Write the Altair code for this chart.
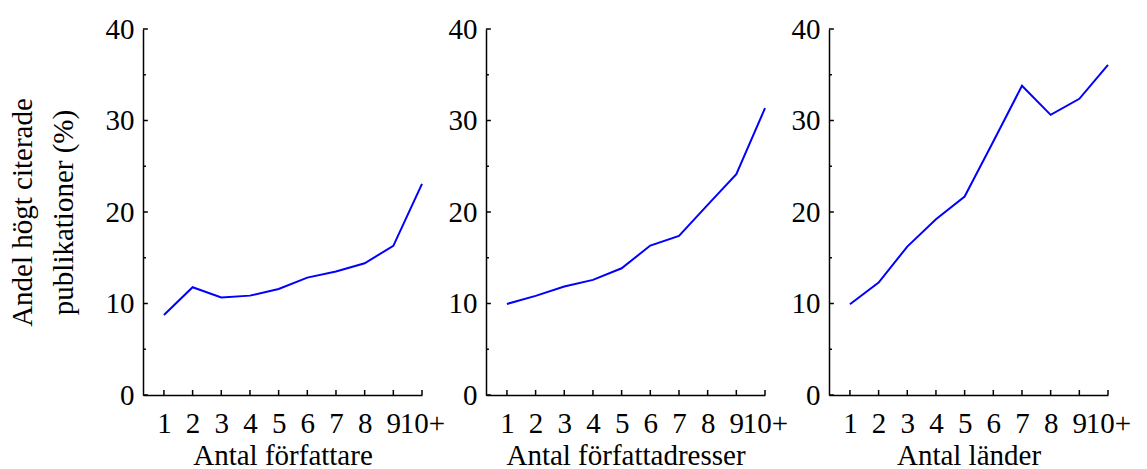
import altair as alt
import pandas as pd

x_vals = [1, 2, 3, 4, 5, 6, 7, 8, 9, 10]
authors = [8.75, 11.78, 10.65, 10.86, 11.59, 12.83, 13.49, 14.40, 16.30, 23.08]
addresses = [9.95, 10.83, 11.85, 12.58, 13.85, 16.33, 17.39, 20.78, 24.13, 31.35]
countries = [9.92, 12.29, 16.22, 19.21, 21.69, 27.7, 33.80, 30.62, 32.37, 36.09]
x_titles = ["Antal författare", "Antal författadresser", "Antal länder"]
y_title = ["Andel högt citerade", "publikationer (%)"]
major_y = [0, 10, 20, 30, 40]
minor_y = [5, 15, 25, 35]

FONT = "Liberation Serif"
FS = 29
W, H = 279, 366
XDOM = [0.27, 10]
XTICK = 0.17   # inward tick length in x units (~5px)
YTICK = 0.55   # inward tick length in y units (~5px)

xs = alt.Scale(domain=XDOM, nice=False, zero=False)
ys = alt.Scale(domain=[0, 40], nice=False)


def panel(values, xtitle, show_ytitle):
    df = pd.DataFrame({"x": x_vals, "y": values})
    xaxis = alt.Axis(values=x_vals, labelExpr="datum.value == 10 ? '10+' : datum.label",
                     ticks=False, grid=False, labelPadding=14, titlePadding=3,
                     labelFlush=False, labelOverlap=False, labelBound=False)
    yaxis = alt.Axis(values=major_y, ticks=False, grid=False, labelPadding=9,
                     titlePadding=27, titleLineHeight=41, labelOverlap=False)
    ytitle = y_title if show_ytitle else None
    line = alt.Chart(df).mark_line(color="#0000FF", strokeWidth=2).encode(
        x=alt.X("x:Q", scale=xs, axis=xaxis, title=xtitle),
        y=alt.Y("y:Q", scale=ys, axis=yaxis, title=ytitle),
    )
    xt = alt.Chart(pd.DataFrame({"x": x_vals})).mark_rule(color="black", strokeWidth=1.5).encode(
        x=alt.X("x:Q", axis=xaxis, title=xtitle),
        y=alt.YDatum(0, axis=yaxis, title=ytitle), y2=alt.datum(YTICK))
    ymaj = alt.Chart(pd.DataFrame({"y": major_y})).mark_rule(color="black", strokeWidth=1.5).encode(
        y=alt.Y("y:Q", axis=yaxis, title=ytitle),
        x=alt.XDatum(XDOM[0], axis=xaxis, title=xtitle), x2=alt.datum(XDOM[0] + XTICK))
    ymin = alt.Chart(pd.DataFrame({"y": minor_y})).mark_rule(color="black", strokeWidth=1.5).encode(
        y=alt.Y("y:Q", axis=yaxis, title=ytitle),
        x=alt.XDatum(XDOM[0], axis=xaxis, title=xtitle), x2=alt.datum(XDOM[0] + XTICK * 0.6))
    return alt.layer(line, xt, ymaj, ymin).properties(width=W, height=H)


chart = alt.hconcat(
    panel(authors, x_titles[0], True),
    panel(addresses, x_titles[1], False),
    panel(countries, x_titles[2], False),
    spacing=64,
    bounds="flush",
).configure_view(stroke=None).configure_axis(
    domainColor="black", domainWidth=1.5,
    labelFont=FONT, titleFont=FONT, labelFontSize=FS, titleFontSize=FS,
    labelColor="black", titleColor="black", titleFontWeight="normal",
).properties(padding={"left": 8, "top": 15, "right": 0, "bottom": 0})

chart.save("out.html", embed_options={"renderer": "svg", "actions": False})
